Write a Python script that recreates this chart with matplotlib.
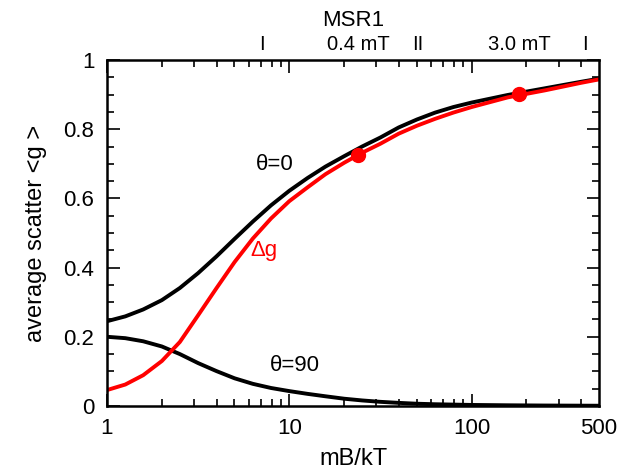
import matplotlib
matplotlib.use('Agg')
import matplotlib.pyplot as plt
from matplotlib.ticker import FixedLocator, NullFormatter

plt.rcParams['font.family'] = ['Liberation Sans', 'DejaVu Sans']

# values (x = mB/kT, log spaced)
x = [1, 1.26, 1.58, 2.0, 2.51, 3.16, 3.98, 5.01, 6.31, 7.94, 10, 12.6, 15.8, 20, 25.1,
     31.6, 39.8, 50.1, 63.1, 79.4, 100, 158, 251, 398, 500]
g_theta0 = [0.245, 0.259, 0.279, 0.306, 0.341, 0.384, 0.432, 0.483, 0.533, 0.580, 0.622, 0.659, 0.692,
            0.722, 0.750, 0.776, 0.805, 0.828, 0.848, 0.864, 0.877, 0.899, 0.918, 0.937, 0.946]
g_delta = [0.046, 0.062, 0.089, 0.130, 0.185, 0.262, 0.340, 0.416, 0.484, 0.542, 0.592, 0.632, 0.670,
           0.703, 0.732, 0.758, 0.787, 0.810, 0.830, 0.848, 0.864, 0.892, 0.912, 0.934, 0.944]
g_theta90 = [0.200, 0.196, 0.187, 0.172, 0.150, 0.124, 0.101, 0.080, 0.064, 0.052, 0.043, 0.035, 0.028,
             0.021, 0.016, 0.012, 0.009, 0.0065, 0.005, 0.004, 0.003, 0.002, 0.0013, 0.0009, 0.0007]

msr_x = [23.8, 182]
msr_y = [0.726, 0.903]

top_labels = ['I', '0.4 mT', 'II', '3.0 mT', 'I']
top_label_x = [7.1, 23.8, 50.8, 184, 420]

fig = plt.figure(figsize=(6.43, 4.74), dpi=100)
ax = fig.add_axes([0.1664, 0.1435, 0.7652, 0.7299])

ax.plot(x, g_theta0, color='black', lw=2.8)
ax.plot(x, g_theta90, color='black', lw=2.8)
ax.plot(x, g_delta, color='#ff0000', lw=2.8)
ax.plot(msr_x, msr_y, 'o', color='#ff0000', ms=10, zorder=5)

ax.set_xscale('log')
ax.set_xlim(1, 500)
ax.set_ylim(0, 1)

ax.xaxis.set_major_locator(FixedLocator([1, 10, 100, 500]))
ax.set_xticklabels(['1', '10', '100', '500'])
ax.xaxis.set_minor_locator(FixedLocator([2, 3, 4, 5, 6, 7, 8, 9, 20, 30, 40, 50, 60, 70, 80, 90, 200, 300, 400]))
ax.xaxis.set_minor_formatter(NullFormatter())
ax.yaxis.set_major_locator(FixedLocator([0, 0.2, 0.4, 0.6, 0.8, 1.0]))
ax.set_yticklabels(['0', '0.2', '0.4', '0.6', '0.8', '1'])
ax.yaxis.set_minor_locator(FixedLocator([0.05, 0.1, 0.15, 0.25, 0.3, 0.35, 0.45, 0.5, 0.55,
                                         0.65, 0.7, 0.75, 0.85, 0.9, 0.95]))

ax.tick_params(which='both', direction='in', top=True, right=True, labelsize=16, width=1.2)
ax.tick_params(which='major', length=9, pad=9)
ax.tick_params(which='minor', length=5)
# no tick mark at the 500 label (it sits on the frame edge)
ax.xaxis.get_major_ticks()[3].tick1line.set_visible(False)
ax.xaxis.get_major_ticks()[3].tick2line.set_visible(False)
for s in ax.spines.values():
    s.set_linewidth(1.8)

ax.set_xlabel('mB/kT', fontsize=17, labelpad=6)
ax.set_ylabel('average scatter <g >', fontsize=17, labelpad=12)

ax.text(8.3, 0.697, 'θ=0', fontsize=16, ha='center', va='center')
ax.text(7.3, 0.45, 'Δg', fontsize=16, color='#ff0000', ha='center', va='center')
ax.text(10.7, 0.116, 'θ=90', fontsize=16, ha='center', va='center')

for lab, lx in zip(top_labels, top_label_x):
    ax.text(lx, 1.045, lab, fontsize=14.5, ha='center', va='center', clip_on=False)
ax.text(0.5, 1.115, 'MSR1', fontsize=16, ha='center', va='center', transform=ax.transAxes)

fig.savefig('out.png', dpi=100)
